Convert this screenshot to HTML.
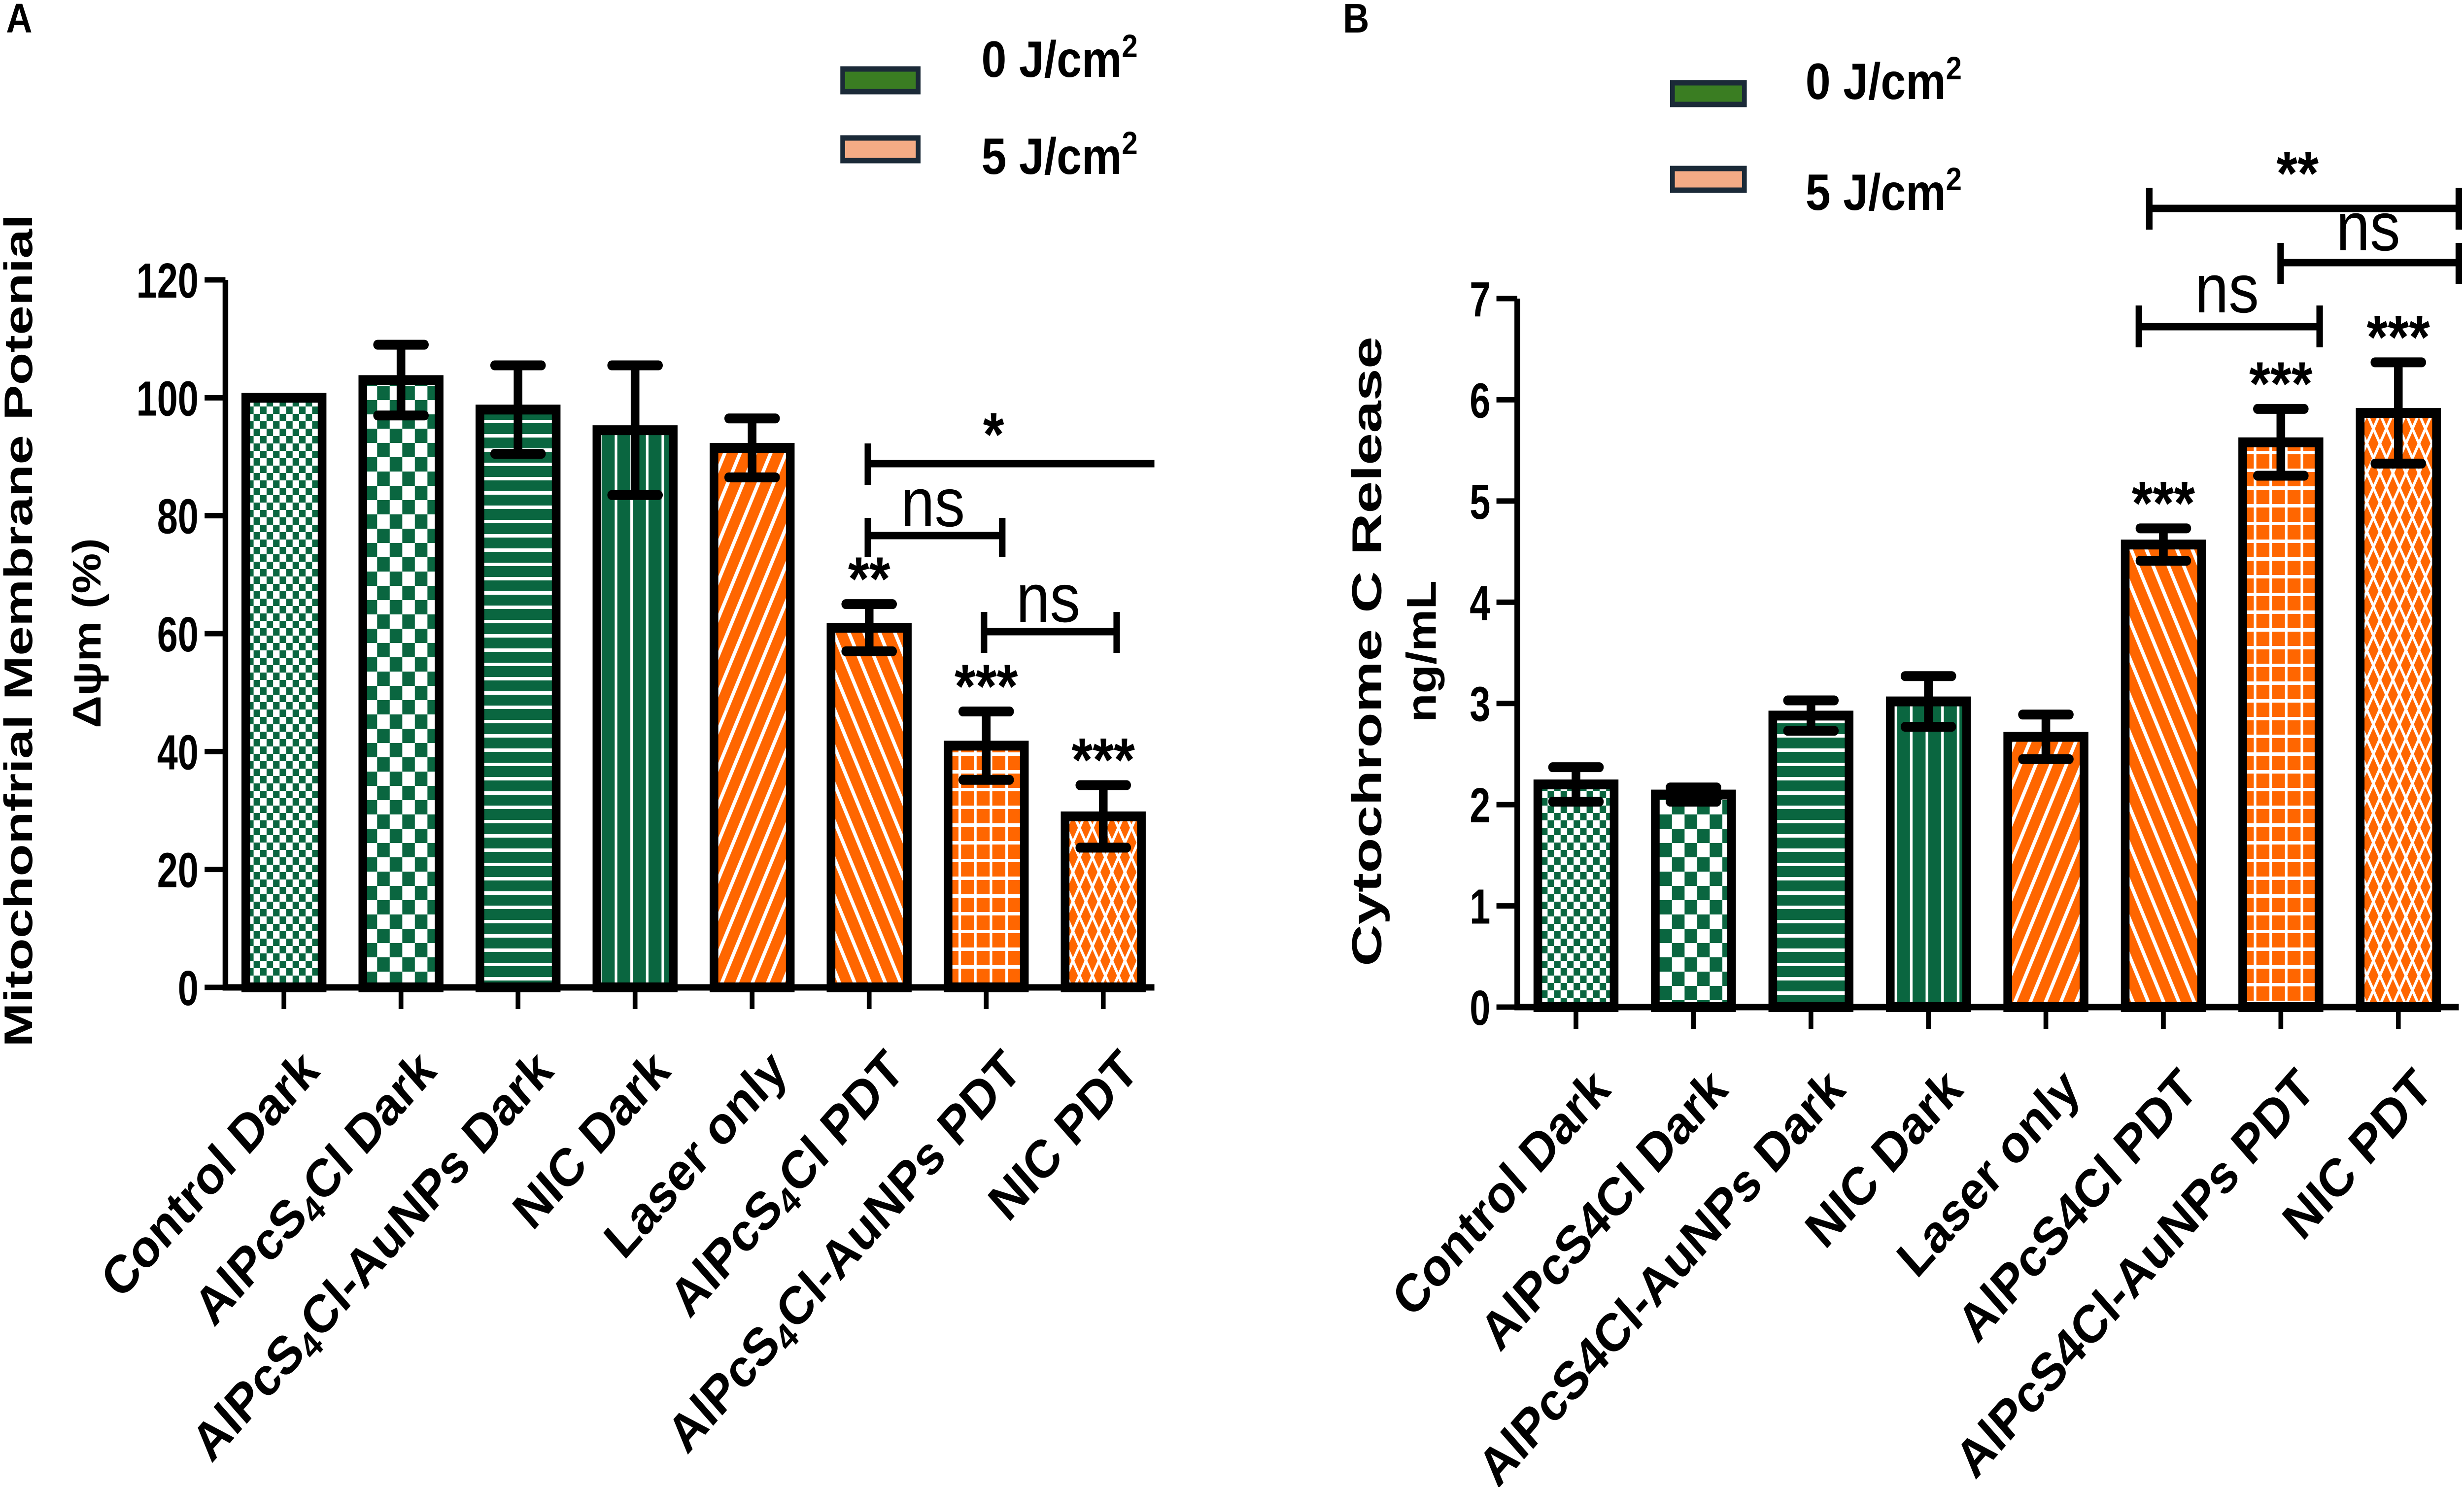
<!DOCTYPE html>
<html><head><meta charset="utf-8"><style>
html,body{margin:0;padding:0;background:#fff;width:100%;height:100%;overflow:hidden;}
svg{display:block;position:fixed;left:0;top:0;width:100vw;height:100vh;font-family:"Liberation Sans",Arial,sans-serif;}
</style></head><body>
<svg id="fig" viewBox="0 0 5684 3018" preserveAspectRatio="none" xmlns="http://www.w3.org/2000/svg">
<defs>
<pattern id="p0" patternUnits="userSpaceOnUse" width="30" height="30"><rect width="30" height="30" fill="#0a6640"/><rect width="15" height="15" fill="#fff"/><rect x="15" y="15" width="15" height="15" fill="#fff"/></pattern>
<pattern id="p1" patternUnits="userSpaceOnUse" width="58" height="58"><rect width="58" height="58" fill="#0a6640"/><rect width="29" height="29" fill="#fff"/><rect x="29" y="29" width="29" height="29" fill="#fff"/></pattern>
<pattern id="p2" patternUnits="userSpaceOnUse" width="30" height="29"><rect width="30" height="29" fill="#0a6640"/><rect y="11" width="30" height="7" fill="#fff"/></pattern>
<pattern id="p3" patternUnits="userSpaceOnUse" width="36" height="30"><rect width="36" height="30" fill="#0a6640"/><rect x="14" width="6" height="30" fill="#fff"/></pattern>
<pattern id="p4" patternUnits="userSpaceOnUse" width="32" height="32" patternTransform="rotate(25)"><rect width="32" height="32" fill="#ff6600"/><rect x="12" width="8" height="32" fill="#fff"/></pattern>
<pattern id="p5" patternUnits="userSpaceOnUse" width="32" height="32" patternTransform="rotate(-25)"><rect width="32" height="32" fill="#ff6600"/><rect x="12" width="8" height="32" fill="#fff"/></pattern>
<pattern id="p6" patternUnits="userSpaceOnUse" width="36" height="36"><rect width="36" height="36" fill="#ff6600"/><rect x="15" width="6" height="36" fill="#fff"/><rect y="15" width="36" height="7" fill="#fff"/></pattern>
<pattern id="p7" patternUnits="userSpaceOnUse" width="60" height="60"><rect width="60" height="60" fill="#ff6600"/><path d="M0 60 L30 0 M30 60 L60 0 M0 0 L30 60 M30 0 L60 60" stroke="#fff" stroke-width="6"/></pattern>
</defs>
<g id="A"></g>
<g id="B"></g>
</svg>
<script>
const catsA = ["Control Dark","AlPcS4Cl Dark","AlPcS4Cl-AuNPs Dark","NIC Dark","Laser only","AlPcS4Cl PDT","AlPcS4Cl-AuNPs PDT","NIC PDT"];
const valsA = [100,103,98,94.5,91.5,61,41,29];
const errA = [0,6,7.5,11,5,4,5.8,5.3];
const ticksA = [0,20,40,60,80,100,120];
const starsA = ["","","","","","**","***","***"];

const catsB = ["Control Dark","AlPcS4Cl Dark","AlPcS4Cl-AuNPs Dark","NIC Dark","Laser only","AlPcS4Cl PDT","AlPcS4Cl-AuNPs PDT","NIC PDT"];
const valsB = [2.2,2.1,2.88,3.02,2.67,4.57,5.58,5.87];
const errB = [0.17,0.07,0.15,0.25,0.22,0.16,0.33,0.5];
const ticksB = [0,1,2,3,4,5,6,7];
const starsB = ["","","","","","***","***","***"];

const NS="http://www.w3.org/2000/svg";
function mk(parent,tag,attrs,text){const e=document.createElementNS(NS,tag);for(const k in attrs)e.setAttribute(k,attrs[k]);if(text!==undefined)e.textContent=text;parent.appendChild(e);return e;}

function panel(g,cfg){
  const y=v=>cfg.y0-(v-0)*(cfg.y0-cfg.yTop)/cfg.max;
  const x=i=>cfg.x0+(i+0.5)*cfg.step;
  cfg.vals.forEach((v,i)=>{
    const r=mk(g,'rect',{x:x(i)-88,y:y(v),width:176,height:cfg.y0-y(v),fill:'url(#p'+i+')',stroke:'#000','stroke-width':20});
    
    
    const e=cfg.err[i];
    if(e>0){
      const eb=mk(g,'path',{d:`M${x(i)} ${y(v+e)} V${y(v-e)} M${x(i)-54} ${y(v+e)} H${x(i)+54} M${x(i)-54} ${y(v-e)} H${x(i)+54}`,stroke:'#000','stroke-width':20,fill:'none','stroke-linecap':'round'});
      
      
    }
    if(cfg.stars[i]){
      const s=mk(g,'text',{x:x(i),y:y(v+e)-cfg.starGap+10,'font-size':125,'font-weight':'bold','text-anchor':'middle'},cfg.stars[i]);
      
      
    }
    const tk=mk(g,'line',{x1:x(i),y1:cfg.y0,x2:x(i),y2:cfg.y0+44,stroke:'#000','stroke-width':11});
    
    
    const lx=x(i)+cfg.lblDx, ly=cfg.lblY;
    const t=mk(g,'text',{x:lx,y:ly,'font-size':108,'font-weight':'bold','text-anchor':'end',transform:`rotate(-45 ${lx} ${ly})`});
    
    
    const lab=cfg.cats[i];
    if(cfg.sub && lab.indexOf('S4')>=0){
      const parts=lab.split('S4');
      mk(t,'tspan',{},parts[0]+'S');
      mk(t,'tspan',{'font-size':75,dy:18},'4');
      mk(t,'tspan',{dy:-18},parts[1]);
    } else t.textContent=lab;
  });
  const ax=mk(g,'path',{d:`M${cfg.x0} ${cfg.yTop} V${cfg.y0} H${cfg.xEnd}`,stroke:'#000','stroke-width':13,fill:'none'});
  
  
  cfg.ticks.forEach(t=>{
    const l=mk(g,'line',{x1:cfg.x0-48,y1:y(t),x2:cfg.x0,y2:y(t),stroke:'#000','stroke-width':11});
    
    
    const tt=mk(g,'text',{x:cfg.x0-62,y:y(t)+36,'font-size':100,'font-weight':'bold','text-anchor':'end'},String(t));
    tt.setAttribute('transform',`translate(${(cfg.x0-62)*0.14} 0) scale(0.86 1)`);
    
    
  });
}

const gA=document.getElementById('A'), gB=document.getElementById('B');
panel(gA,{vals:valsA,err:errA,cats:catsA,ticks:ticksA,stars:starsA,x0:520,y0:2004,yTop:568,max:120,step:270,xEnd:2663,lblDx:86,lblY:2178,sub:true,starGap:18});
panel(gB,{vals:valsB,err:errB,cats:catsB,ticks:ticksB,stars:starsB,x0:3500,y0:2044,yTop:606,max:7,step:271,xEnd:5672,lblDx:84,lblY:2216,sub:false,starGap:18});

function T(g,attrs,txt,name){const t=mk(g,'text',attrs,txt);return t;}
function P(g,d,name){const p=mk(g,'path',{d:d,stroke:'#000','stroke-width':15,fill:'none'});return p;}

T(gA,{x:14,y:66,'font-size':84,'font-weight':'bold'},'A','panel-label-a');
T(gA,{x:0,y:0,'font-size':92,'font-weight':'bold','text-anchor':'middle',transform:'translate(74 1280) rotate(-90)',textLength:1690,lengthAdjust:'spacingAndGlyphs'},'Mitochonfrial Membrane Potenial','y-axis-title-a');
T(gA,{x:0,y:0,'font-size':92,'font-weight':'bold','text-anchor':'middle',transform:'translate(232 1285) rotate(-90)'},'Δψm (%)','y-axis-subtitle-a');
P(gA,'M2002 900 V984 M2002 941 H2663','sig-bracket-star');
T(gA,{x:2292,y:925,'font-size':125,'font-weight':'bold','text-anchor':'middle'},'*','sig-star');
P(gA,'M2002 1051 V1131 M2002 1087 H2312 M2312 1051 V1131','sig-bracket-ns-1');
T(gA,{x:2152,y:1068,'font-size':140,'text-anchor':'middle'},'ns','sig-ns-1');
P(gA,'M2270 1242 V1325 M2270 1282 H2576 M2576 1242 V1325','sig-bracket-ns-2');
T(gA,{x:2418,y:1262,'font-size':140,'text-anchor':'middle'},'ns','sig-ns-2');
const lA1=mk(gA,'rect',{x:1944,y:140,width:174,height:46,fill:'#3a7d22',stroke:'#1b2a38','stroke-width':11});


const lA2=mk(gA,'rect',{x:1944,y:280,width:174,height:46,fill:'#f4ab85',stroke:'#1b2a38','stroke-width':11});


const tA1=T(gA,{x:2264,y:156,'font-size':104,'font-weight':'bold'},'','legend-label-0');
mk(tA1,'tspan',{},'0 J/cm');mk(tA1,'tspan',{'font-size':66,dy:-40},'2');
const tA2=T(gA,{x:2264,y:353,'font-size':104,'font-weight':'bold'},'','legend-label-5');
mk(tA2,'tspan',{},'5 J/cm');mk(tA2,'tspan',{'font-size':66,dy:-40},'2');

T(gB,{x:3098,y:66,'font-size':84,'font-weight':'bold'},'B','panel-label-b');
T(gB,{x:0,y:0,'font-size':96,'font-weight':'bold','text-anchor':'middle',transform:'translate(3186 1322) rotate(-90)',textLength:1278,lengthAdjust:'spacingAndGlyphs'},'Cytochrome C Release','y-axis-title-b');
T(gB,{x:0,y:0,'font-size':96,'font-weight':'bold','text-anchor':'middle',transform:'translate(3312 1322) rotate(-90)'},'ng/mL','y-axis-subtitle-b');
P(gB,'M4958 381 V466 M4958 423 H5672 M5672 381 V466','sig-bracket-doublestar');
T(gB,{x:5300,y:395,'font-size':125,'font-weight':'bold','text-anchor':'middle'},'**','sig-doublestar');
P(gB,'M5261 493 V576 M5261 533 H5672 M5672 493 V576','sig-bracket-ns-upper');
T(gB,{x:5463,y:508,'font-size':140,'text-anchor':'middle'},'ns','sig-ns-upper');
P(gB,'M4934 620 V705 M4934 663 H5351 M5351 620 V705','sig-bracket-ns-lower');
T(gB,{x:5137,y:634,'font-size':140,'text-anchor':'middle'},'ns','sig-ns-lower');
const lB1=mk(gB,'rect',{x:3858,y:168,width:166,height:44,fill:'#3a7d22',stroke:'#1b2a38','stroke-width':11});


const lB2=mk(gB,'rect',{x:3858,y:342,width:166,height:44,fill:'#f4ab85',stroke:'#1b2a38','stroke-width':11});


const tB1=T(gB,{x:4165,y:201,'font-size':104,'font-weight':'bold'},'','legend-label-0');
mk(tB1,'tspan',{},'0 J/cm');mk(tB1,'tspan',{'font-size':66,dy:-40},'2');
const tB2=T(gB,{x:4165,y:426,'font-size':104,'font-weight':'bold'},'','legend-label-5');
mk(tB2,'tspan',{},'5 J/cm');mk(tB2,'tspan',{'font-size':66,dy:-40},'2');
</script>
</body></html>
